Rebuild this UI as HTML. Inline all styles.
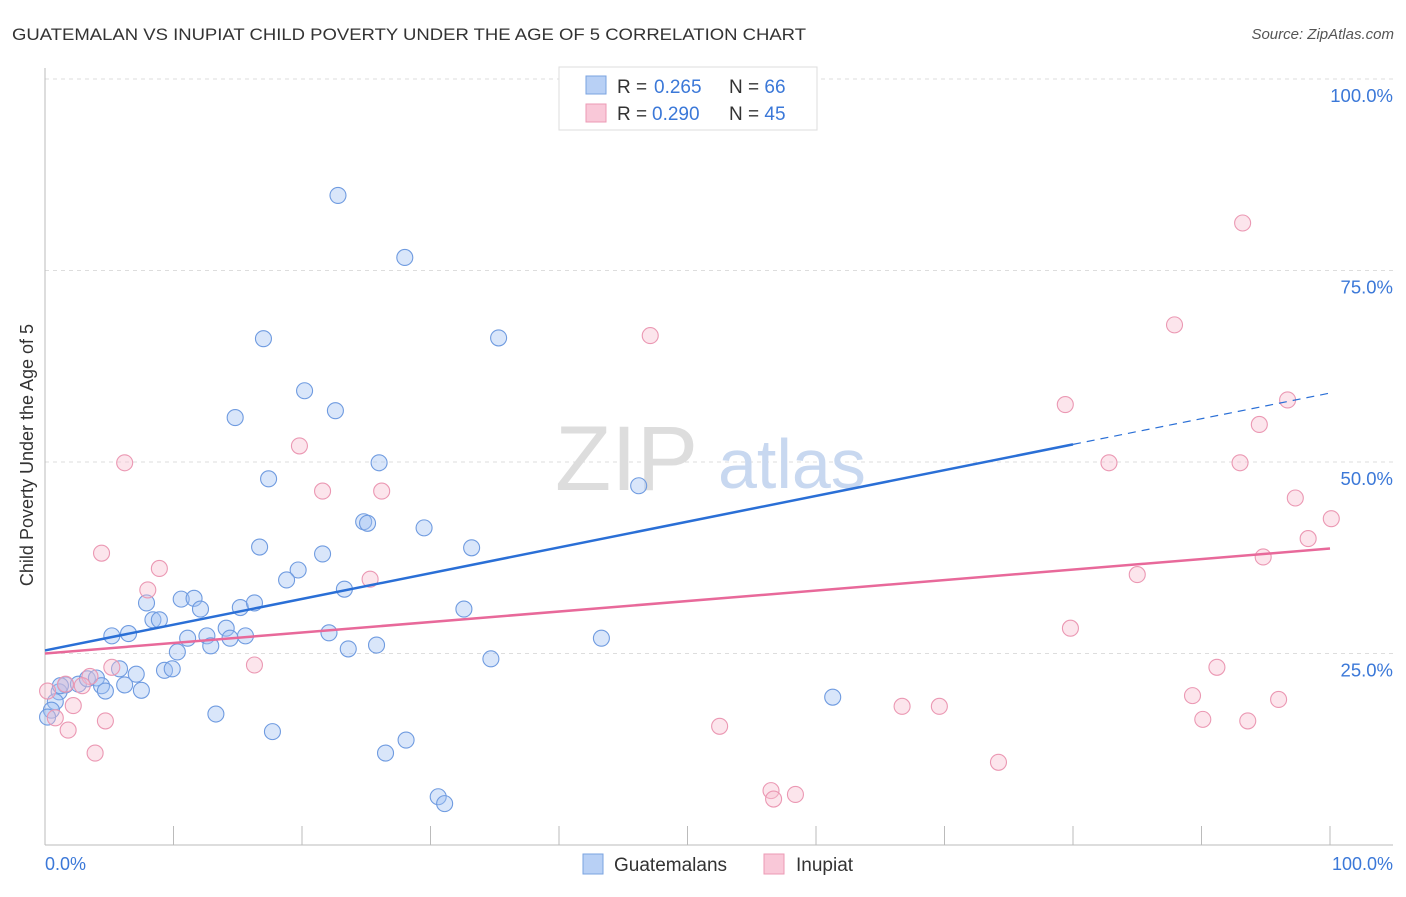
<!DOCTYPE html>
<html><head><meta charset="utf-8"><style>
body{margin:0;background:#fff;font-family:"Liberation Sans",sans-serif;}
svg text{font-family:"Liberation Sans",sans-serif;}
</style></head><body>
<svg id="chart" width="1406" height="892">
<text x="12" y="40" font-size="17" fill="#333" textLength="794" lengthAdjust="spacingAndGlyphs">GUATEMALAN VS INUPIAT CHILD POVERTY UNDER THE AGE OF 5 CORRELATION CHART</text>
<text x="1394" y="39" font-size="15" fill="#555" font-style="italic" text-anchor="end">Source: ZipAtlas.com</text>
<g id="grid"></g>
<g><text x="555" y="490" font-size="92" fill="#ddd" font-family="Liberation Serif,serif">ZIP</text><text x="718" y="488" font-size="70" fill="#c8d8f0">atlas</text></g>
<text transform="translate(33,455) rotate(-90)" font-size="18" fill="#333" text-anchor="middle">Child Poverty Under the Age of 5</text>
<g id="pts"></g>
<g id="lines"></g>
<g>
<rect x="559" y="67" width="258" height="63" fill="#fff" stroke="#ddd"/>
<rect x="586" y="76" width="20" height="18" fill="#b8d0f5" stroke="#7aa3e0"/>
<rect x="586" y="104" width="20" height="18" fill="#f9c8d8" stroke="#ec9ab5"/>
<text x="617" y="93" font-size="19" fill="#333">R = <tspan x="654" fill="#3b78d8">0.265</tspan><tspan x="729">N = </tspan><tspan fill="#3b78d8">66</tspan></text>
<text x="617" y="120" font-size="19" fill="#333">R = <tspan x="652" fill="#3b78d8">0.290</tspan><tspan x="729">N = </tspan><tspan fill="#3b78d8">45</tspan></text>
</g>
<g>
<rect x="583" y="854" width="20" height="20" fill="#b8d0f5" stroke="#7aa3e0"/>
<text x="614" y="871" font-size="19" fill="#333">Guatemalans</text>
<rect x="764" y="854" width="20" height="20" fill="#f9c8d8" stroke="#ec9ab5"/>
<text x="796" y="871" font-size="19" fill="#333">Inupiat</text>
</g>
<text x="45" y="870" font-size="18" fill="#3b78d8">0.0%</text>
<text x="1393" y="870" font-size="18" fill="#3b78d8" text-anchor="end">100.0%</text>
</svg>
<script>
const yTicks=[25,50,75,100];
const yTickLabels=["25.0%","50.0%","75.0%","100.0%"];
const xTicks=[0,10,20,30,40,50,60,70,80,90,100];
const blueX=[22.8,28,17,35.3,20.2,22.6,14.8,26,17.4,46.2,24.8,25.1,29.5,33.2,16.7,21.6,19.7,18.8,23.3,7.9,10.6,11.6,12.1,15.2,16.3,8.4,8.9,32.6,5.2,6.5,11.1,12.6,14.1,14.4,15.6,12.9,22.1,23.6,25.8,43.3,10.3,34.7,5.8,7.1,9.3,9.9,1.6,2.6,3.3,4,4.4,4.7,6.2,7.5,1.1,0.8,0.5,0.2,13.3,17.7,61.3,26.5,28.1,30.6,31.1,1.2];
const blueY=[84.8,76.7,66.1,66.2,59.3,56.7,55.8,49.9,47.8,46.9,42.2,42.0,41.4,38.8,38.9,38.0,35.9,34.6,33.4,31.6,32.1,32.2,30.8,31.0,31.6,29.4,29.4,30.8,27.3,27.6,27.0,27.3,28.3,27.0,27.3,26.0,27.7,25.6,26.1,27.0,25.2,24.3,23.0,22.3,22.8,23.0,20.9,21.0,21.7,21.8,20.8,20.1,20.9,20.2,20.0,18.7,17.6,16.7,17.1,14.8,19.3,12.0,13.7,6.3,5.4,20.8];
const pinkX=[93.2,47.1,87.9,96.7,79.4,94.5,19.8,6.2,21.6,26.2,82.8,93,97.3,100.1,98.3,4.4,8.9,8,25.3,94.8,85,79.8,16.3,5.2,91.2,3.5,1.6,2.9,0.2,2.2,89.3,96,66.7,69.6,4.7,90.1,93.6,1.8,0.8,52.5,3.9,74.2,56.5,58.4,56.7];
const pinkY=[81.2,66.5,67.9,58.1,57.5,54.9,52.1,49.9,46.2,46.2,49.9,49.9,45.3,42.6,40,38.1,36.1,33.3,34.7,37.6,35.3,28.3,23.5,23.2,23.2,22,21,20.8,20.1,18.2,19.5,19,18.1,18.1,16.2,16.4,16.2,15,16.6,15.5,12,10.8,7.1,6.6,6.0];
const ns="http://www.w3.org/2000/svg";
const X=v=>45+v*12.85, Y=v=>845-v*7.66;
function mk(t,a,p){const e=document.createElementNS(ns,t);for(const k in a)e.setAttribute(k,a[k]);p.appendChild(e);return e;}
const grid=document.getElementById('grid');
yTicks.forEach((t,i)=>{
 const l=mk('line',{x1:45,x2:1393,y1:Y(t),y2:Y(t),stroke:'#ddd','stroke-dasharray':'4,4'},grid);
 
 
 const tx=mk('text',{x:1393,y:Y(t)+23,'font-size':18.5,fill:'#3b78d8','text-anchor':'end'},grid);
 tx.textContent=yTickLabels[i];
 
 
});
const ax=mk('line',{x1:45,x2:1393,y1:845,y2:845,stroke:'#bbb'},grid);


const ay=mk('line',{x1:45,x2:45,y1:68,y2:845,stroke:'#bbb'},grid);


xTicks.forEach(t=>{const l=mk('line',{x1:X(t),x2:X(t),y1:826,y2:845,stroke:'#bbb'},grid);
 
 });
const pts=document.getElementById('pts');
blueX.forEach((x,i)=>{const c=mk('circle',{cx:X(x),cy:Y(blueY[i]),r:8,fill:'rgba(160,192,242,0.4)',stroke:'#6f9be0','stroke-width':1.1},pts);
 
 });
pinkX.forEach((x,i)=>{const c=mk('circle',{cx:X(x),cy:Y(pinkY[i]),r:8,fill:'rgba(248,190,208,0.4)',stroke:'#eb98b3','stroke-width':1.1},pts);
 
 });
const lines=document.getElementById('lines');
const b1=mk('line',{x1:X(0),y1:Y(25.4),x2:X(80),y2:Y(52.3),stroke:'#2a6fd6','stroke-width':2.5},lines);


const b2=mk('line',{x1:X(80),y1:Y(52.3),x2:X(100),y2:Y(59),stroke:'#2a6fd6','stroke-width':1.2,'stroke-dasharray':'8,6'},lines);


const p1=mk('line',{x1:X(0),y1:Y(25),x2:X(100),y2:Y(38.7),stroke:'#e8699a','stroke-width':2.5},lines);


</script>
</body></html>
